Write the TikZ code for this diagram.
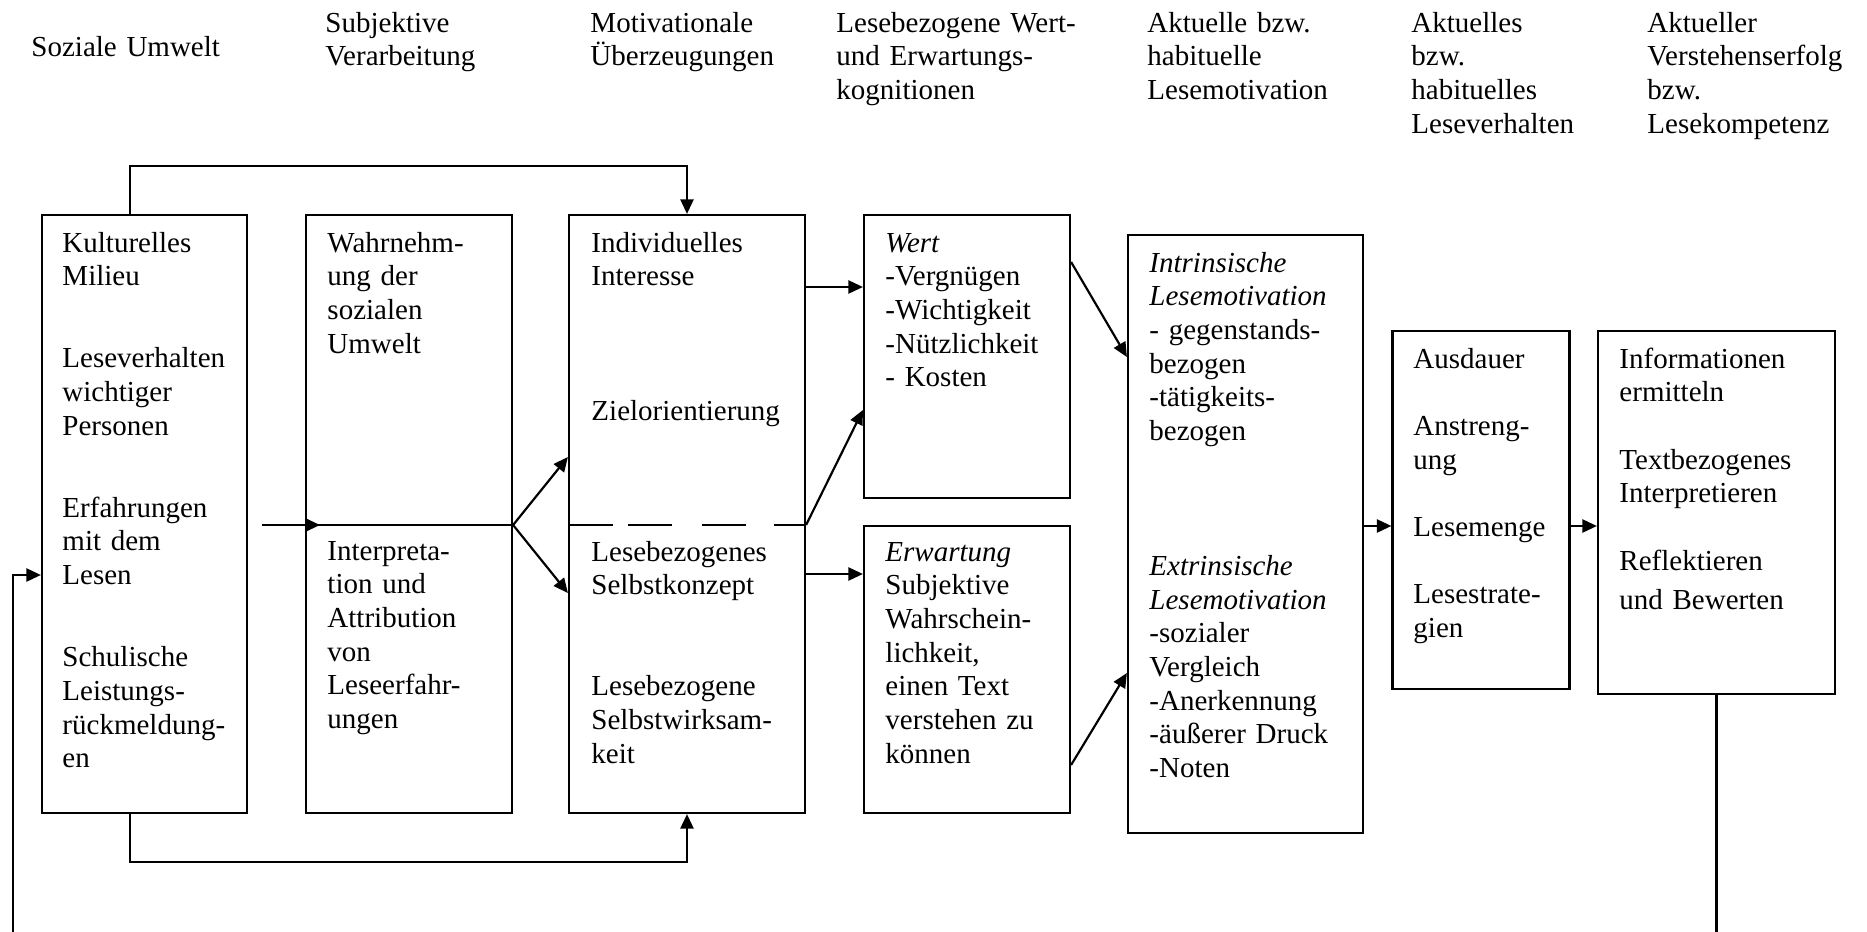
\documentclass[tikz,border=0pt]{standalone}
\usepackage{fontspec}
\setmainfont{Liberation Serif}
\usetikzlibrary{arrows.meta}
\newdimen\pxu
\pxu=0.41379pt

\begin{document}
\begin{tikzpicture}[
    x=0.41379pt, y=-0.41379pt,
    box/.style={rectangle, draw, line width=0.9pt, inner sep=0pt},
    txt/.style={anchor=base west, inner sep=0pt, text width=150pt, align=left, font=\fontsize{12}{13.95}\selectfont},
    arrow/.style={-{Triangle[length=6pt,width=5.4pt]}, line width=0.9pt}
]
\useasboundingbox (0,0) rectangle (1867,932);

% column headings
\node[txt] (h1) at (31,56) {Soziale Umwelt};
\node[txt] (h2) at (325,32) {Subjektive\\Verarbeitung};
\node[txt] (h3) at (590,32) {Motivationale\\Überzeugungen};
\node[txt] (h4) at (836,32) {Lesebezogene Wert-\\und Erwartungs-\\kognitionen};
\node[txt] (h5) at (1147,32) {Aktuelle bzw.\\habituelle\\Lesemotivation};
\node[txt] (h6) at (1411,32) {Aktuelles\\bzw.\\habituelles\\Leseverhalten};
\node[txt] (h7) at (1647,32) {Aktueller\\Verstehenserfolg\\bzw.\\Lesekompetenz};

% boxes
\node[box, minimum width=205\pxu, minimum height=598\pxu] (kultur) at (144.5,514) {};
\node[box, minimum width=206\pxu, minimum height=598\pxu] (wahrn) at (409,514) {};
\node[box, minimum width=236\pxu, minimum height=598\pxu] (motiv) at (687,514) {};
\node[box, minimum width=206\pxu, minimum height=283\pxu] (wert) at (967,356.5) {};
\node[box, minimum width=206\pxu, minimum height=287\pxu] (erw) at (967,669.5) {};
\node[box, minimum width=235\pxu, minimum height=598\pxu] (lmot) at (1245.5,534) {};
\node[box, minimum width=177\pxu, minimum height=358\pxu] (verh) at (1481,510) {};
\node[box, minimum width=237\pxu, minimum height=363\pxu] (komp) at (1716.5,512.5) {};

% box texts
\node[txt] (kulturtxt) at (62,252) {Kulturelles\\Milieu\\[20pt]Leseverhalten\\wichtiger\\Personen\\[20pt]Erfahrungen\\mit dem\\Lesen\\[20pt]Schulische\\Leistungs-\\rückmeldung-\\en};
\node[txt] (wahrntxt) at (327,252) {Wahrnehm-\\ung der\\sozialen\\Umwelt};
\node[txt] (interptxt) at (327,560) {Interpreta-\\tion und\\Attribution\\von\\Leseerfahr-\\ungen};
\node[txt] (motivtxt) at (591,252) {Individuelles\\Interesse\\[41.8pt]Zielorientierung};
\node[txt] (selbsttxt) at (591,561) {Lesebezogenes\\Selbstkonzept\\[27.9pt]Lesebezogene\\Selbstwirksam-\\keit};
\node[txt] (werttxt) at (885,252) {\textit{Wert}\\-Vergnügen\\-Wichtigkeit\\-Nützlichkeit\\- Kosten};
\node[txt] (erwtxt) at (885,561) {\textit{Erwartung}\\Subjektive\\Wahrschein-\\lichkeit,\\einen Text\\verstehen zu\\können};
\node[txt] (lmottxt) at (1149,272) {\textit{Intrinsische}\\\textit{Lesemotivation}\\- gegenstands-\\bezogen\\-tätigkeits-\\bezogen\\[41.8pt]\textit{Extrinsische}\\\textit{Lesemotivation}\\-sozialer\\Vergleich\\-Anerkennung\\-äußerer Druck\\-Noten};
\node[txt] (verhtxt) at (1413,368) {Ausdauer\\[13.95pt]Anstreng-\\ung\\[13.95pt]Lesemenge\\[13.95pt]Lesestrate-\\gien};
\node[txt] (komptxt) at (1619,368) {Informationen\\ermitteln\\[13.95pt]Textbezogenes\\Interpretieren\\[13.95pt]Reflektieren\\[2.2pt]und Bewerten};

% feedback ends
\coordinate (sep) at (262,525);
\coordinate (fbl) at (12.6,932);
\coordinate (fbr) at (1716.5,932);

% connectors
\draw[arrow] ([xshift=-14.5\pxu]kultur.north) -- ++(0,-48) -| (motiv.north);
\draw[arrow] ([xshift=-14.5\pxu]kultur.south) -- ++(0,48) -| (motiv.south);
\draw[arrow] (fbl) |- ([yshift=-61\pxu]kultur.west);
\draw[line width=0.9pt] (komp.south) -- (fbr);
\draw[arrow] (sep) -- ++(58,0);
\draw[line width=0.9pt] ([yshift=-11\pxu]wahrn.west) -- ([yshift=-11\pxu]wahrn.east);
\draw[line width=0.9pt, dash pattern=on 18.6pt off 6.2pt on 18.2pt off 12.4pt on 18.2pt off 11.6pt] ([yshift=-11\pxu]motiv.west) -- ([yshift=-11\pxu]motiv.east);
\draw[arrow] ([yshift=-11\pxu]wahrn.east) -- ([yshift=57\pxu]motiv.west);
\draw[arrow] ([yshift=-11\pxu]wahrn.east) -- ([yshift=-79\pxu]motiv.west);
\draw[arrow] ([yshift=227\pxu]motiv.east) -- ([yshift=69.5\pxu]wert.west);
\draw[arrow] ([yshift=-11\pxu]motiv.east) -- ([yshift=-53.5\pxu]wert.west);
\draw[arrow] ([yshift=-60\pxu]motiv.east) -- ([yshift=95.5\pxu]erw.west);
\draw[arrow] ([yshift=94.5\pxu]wert.east) -- ([yshift=177\pxu]lmot.west);
\draw[arrow] ([yshift=-95.5\pxu]erw.east) -- ([yshift=-139\pxu]lmot.west);
\draw[arrow] ([yshift=8\pxu]lmot.east) -- ([yshift=-16\pxu]verh.west);
\draw[arrow] ([yshift=-16\pxu]verh.east) -- ([yshift=-13.5\pxu]komp.west);
\end{tikzpicture}
\end{document}
